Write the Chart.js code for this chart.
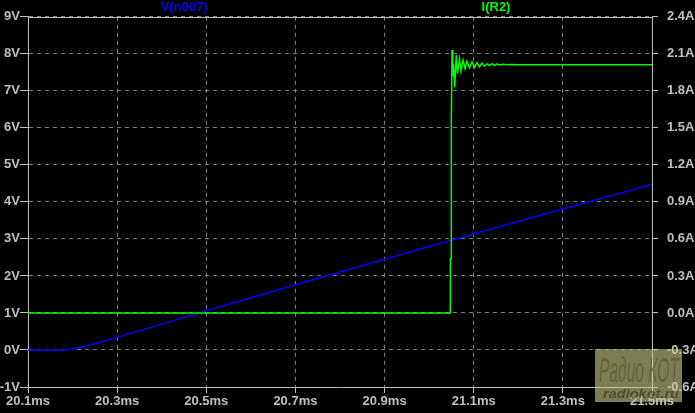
<!DOCTYPE html>
<html>
<head>
<meta charset="utf-8">
<script src="https://cdn.jsdelivr.net/npm/chart.js@4/dist/chart.umd.min.js"></script>
<style>
  html, body { margin: 0; padding: 0; background: #000; }
  #wrap { width: 695px; height: 413px; }
</style>
</head>
<body>
<div id="wrap"><canvas id="c" width="695" height="413"></canvas></div>
<script>
// ---- data ----
const seriesNames = ['V(n007)', 'I(R2)'];
const xTicks = [20.1, 20.3, 20.5, 20.7, 20.9, 21.1, 21.3, 21.5];
const leftTicks = [-1, 0, 1, 2, 3, 4, 5, 6, 7, 8, 9];
const rightTicks = [-0.6, -0.3, 0.0, 0.3, 0.6, 0.9, 1.2, 1.5, 1.8, 2.1, 2.4];

const vTimes  = [20.1, 20.19, 20.22, 20.26, 20.3, 20.5, 20.7, 20.9, 21.1, 21.3, 21.5];
const vValues = [0,    0,     0.08,  0.2,   0.34, 1.06, 1.76, 2.45, 3.14, 3.81, 4.47];

const iTimes  = [20.1, 21.0475, 21.0476, 21.0497, 21.0498, 21.0513, 21.0529, 21.0547, 21.0573,
                 21.0609, 21.0636, 21.0681, 21.0715, 21.0760, 21.0805, 21.0849, 21.0906, 21.0962,
                 21.1018, 21.1074, 21.1130, 21.1186, 21.1242, 21.1298, 21.1354, 21.1410, 21.1466,
                 21.1522, 21.1590, 21.1657, 21.1747, 21.1859, 21.1994, 21.5];
const iValues = [0, 0, 0.44, 0.44, 1.57, 2.13, 1.92, 2.02, 1.83,
                 2.09, 1.94, 2.06, 1.96, 2.05, 1.98, 2.04, 1.985, 2.035,
                 1.99, 2.03, 1.995, 2.025, 2.0, 2.02, 2.005, 2.02, 2.007,
                 2.017, 2.009, 2.016, 2.011, 2.014, 2.012, 2.012];

const watermark = ['Радио КОТ', 'radiokot.ru'];

// ---- styling ----
const labelFont = { family: '"Liberation Sans", Arial, sans-serif', size: 13, weight: 'bold' };
const LABEL = '#c0c0c0';
const GRID = '#808080';

function fitText(c, text, x, y, w, font) {
  c.save();
  c.font = font;
  const m = c.measureText(text).width;
  c.translate(x, y);
  c.scale(w / m, 1);
  c.fillText(text, 0, 0);
  c.restore();
}

const bgPlugin = {
  id: 'bg',
  beforeDraw(chart) {
    const c = chart.ctx;
    c.save();
    c.fillStyle = '#000';
    c.fillRect(0, 0, chart.width, chart.height);
    c.restore();
  },
  beforeDatasetsDraw(chart) {
    const c = chart.ctx, a = chart.chartArea;
    c.save();
    c.strokeStyle = LABEL;
    c.lineWidth = 1;
    c.beginPath();
    c.moveTo(a.left, Math.round(a.top) + 0.5);
    c.lineTo(a.right, Math.round(a.top) + 0.5);
    c.stroke();
    c.restore();
  },
  afterDraw(chart) {
    const c = chart.ctx;
    c.save();
    // series titles
    c.font = 'bold 13px "Liberation Sans", Arial, sans-serif';
    c.textAlign = 'center';
    c.textBaseline = 'middle';
    c.fillStyle = '#0000ff';
    c.fillText(seriesNames[0], 184, 7);
    c.fillStyle = '#00ff00';
    c.fillText(seriesNames[1], 496, 7);
    // watermark
    c.fillStyle = 'rgba(200,200,140,0.62)';
    c.fillRect(595, 349, 87, 53);
    c.textAlign = 'left';
    c.textBaseline = 'alphabetic';
    c.fillStyle = 'rgba(95,95,40,0.75)';
    fitText(c, watermark[0], 599, 382, 80, 'italic 35px "Liberation Sans Narrow", "Liberation Sans", sans-serif');
    c.fillStyle = 'rgba(70,70,30,0.85)';
    fitText(c, watermark[1], 603, 398, 76, 'italic bold 12px "Liberation Sans", sans-serif');
    c.restore();
  }
};

const ctx = document.getElementById('c').getContext('2d');
new Chart(ctx, {
  type: 'scatter',
  data: {
    datasets: [
      {
        label: seriesNames[1],
        data: iTimes.map((t, i) => ({ x: t, y: iValues[i] })),
        yAxisID: 'y1',
        showLine: true,
        borderColor: '#00ff00',
        backgroundColor: '#00ff00',
        borderWidth: 1.5,
        pointRadius: 0,
        tension: 0
      },
      {
        label: seriesNames[0],
        data: vTimes.map((t, i) => ({ x: t, y: vValues[i] })),
        yAxisID: 'y',
        showLine: true,
        borderColor: '#0000ff',
        backgroundColor: '#0000ff',
        borderWidth: 1.5,
        pointRadius: 0,
        tension: 0
      }
    ]
  },
  options: {
    responsive: false,
    animation: false,
    devicePixelRatio: 1,
    layout: { padding: { top: 16, left: 0, right: 0, bottom: 0 } },
    plugins: { legend: { display: false }, tooltip: { enabled: false } },
    scales: {
      x: {
        type: 'linear',
        min: 20.1, max: 21.5,
        afterBuildTicks: s => { s.ticks = xTicks.map(v => ({ value: v })); },
        afterFit: s => { s.height = 26; },
        ticks: { autoSkip: false, maxRotation: 0, color: LABEL, font: labelFont, padding: 1,
                 callback: v => Number(v).toFixed(1) + 'ms' },
        grid: { color: GRID, tickColor: LABEL, tickLength: 6, tickBorderDash: [] },
        border: { display: true, color: LABEL, dash: [4, 4] }
      },
      y: {
        type: 'linear',
        position: 'left',
        min: -1, max: 9,
        afterBuildTicks: s => { s.ticks = leftTicks.map(v => ({ value: v })); },
        afterFit: s => { s.width = 28; },
        ticks: { autoSkip: false, color: LABEL, font: labelFont, padding: 0,
                 callback: v => Number(v).toFixed(0) + 'V' },
        grid: { color: GRID, tickColor: LABEL, tickLength: 8, tickBorderDash: [] },
        border: { display: true, color: LABEL, dash: [4, 4] }
      },
      y1: {
        type: 'linear',
        position: 'right',
        min: -0.6, max: 2.4,
        afterBuildTicks: s => { s.ticks = rightTicks.map(v => ({ value: v })); },
        afterFit: s => { s.width = 43; },
        ticks: { autoSkip: false, color: LABEL, font: labelFont, padding: 9,
                 callback: v => Number(v).toFixed(1) + 'A' },
        grid: { drawOnChartArea: false, tickColor: LABEL, tickLength: 6, tickBorderDash: [] },
        border: { display: true, color: LABEL }
      }
    }
  },
  plugins: [bgPlugin]
});
</script>
</body>
</html>
